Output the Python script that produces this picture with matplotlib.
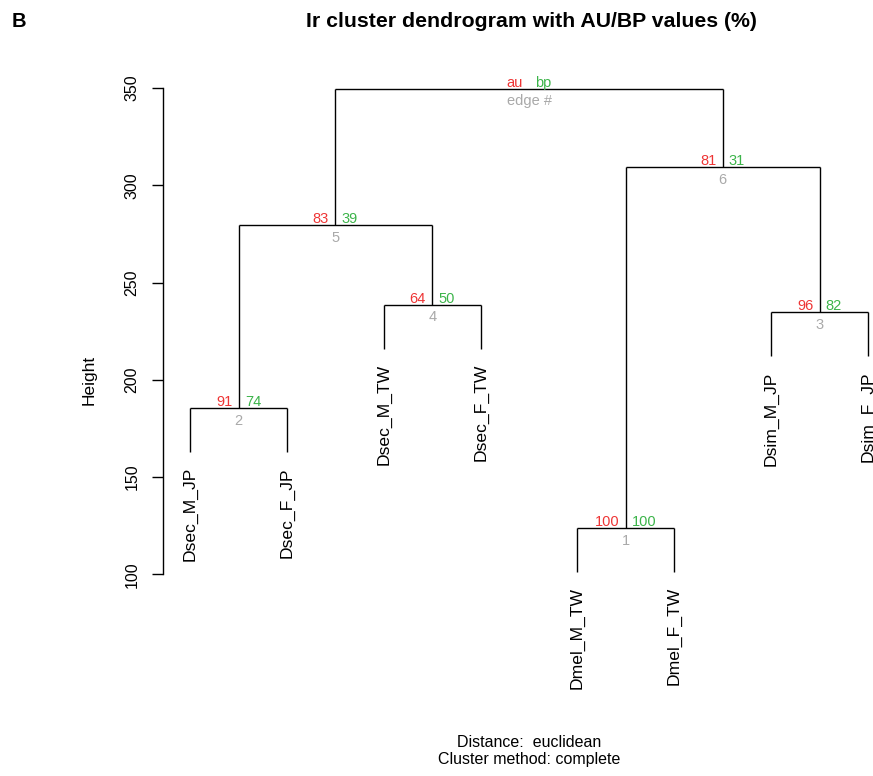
import numpy as np
import matplotlib
matplotlib.use("Agg")
import matplotlib.pyplot as plt

plt.rcParams['font.family'] = ['Liberation Sans', 'DejaVu Sans']

# leaves, in original order
labels = ["Dsec_M_JP", "Dsec_F_JP", "Dsec_M_TW", "Dsec_F_TW",
          "Dmel_M_TW", "Dmel_F_TW", "Dsim_M_JP", "Dsim_F_JP"]

# merge table, R hclust style (negative = leaf, positive = earlier merge)
merge_a = [-5, -1, -7, -3, 2, 1, 5]
merge_b = [-6, -2, -8, -4, 4, 3, 6]
heights = [123.8, 185.5, 234.8, 238.6, 279.6, 309.4, 349.6]

# pvclust values for each edge (root has none)
au_vals = [100, 91, 96, 64, 83, 81]
bp_vals = [100, 74, 82, 50, 39, 31]
edge_ids = [1, 2, 3, 4, 5, 6]

y_ticks = [100, 150, 200, 250, 300, 350]

RED = "#ee3535"
GREEN = "#3cb44a"
GRAY = "#a9a9a9"

# leaf order from a depth-first walk
def walk(k):
    out = []
    for c in (merge_a[k - 1], merge_b[k - 1]):
        out += [-c] if c < 0 else walk(c)
    return out

order = walk(len(heights))
leaf_x = {leaf: i + 1 for i, leaf in enumerate(order)}
hang = 0.1 * (max(heights) - min(heights))

node_x = {}
for k in range(1, len(heights) + 1):
    xs = []
    for c in (merge_a[k - 1], merge_b[k - 1]):
        xs.append(leaf_x[-c] if c < 0 else node_x[c])
    node_x[k] = np.mean(xs)

fig = plt.figure(figsize=(8.73, 7.76), dpi=100)
# axes placed so that the user range matches R's plot region
ax = fig.add_axes([163 / 873, 1 - 720 / 776, 710 / 873, 660 / 776])
ax.set_xlim(0.72, 8.052)
ax.set_ylim(25.1, 364.4)

for k in range(1, len(heights) + 1):
    h = heights[k - 1]
    xs = []
    for c in (merge_a[k - 1], merge_b[k - 1]):
        if c < 0:
            cx, ch = leaf_x[-c], h - hang
        else:
            cx, ch = node_x[c], heights[c - 1]
        xs.append(cx)
        ax.plot([cx, cx], [h, ch], color="black", lw=1.0, solid_capstyle="butt")
    ax.plot(xs, [h, h], color="black", lw=1.0, solid_capstyle="butt")

# leaf labels
for k in range(1, len(heights) + 1):
    h = heights[k - 1]
    for c in (merge_a[k - 1], merge_b[k - 1]):
        if c < 0:
            ax.annotate(labels[-c - 1], (leaf_x[-c], h - hang), xytext=(0, -11),
                        textcoords="offset points", rotation=90, ha="center",
                        va="top", fontsize=12.6, annotation_clip=False)

# au / bp / edge numbers
PV_SIZE = 10.5
for k in range(1, len(heights)):
    x, h = node_x[k], heights[k - 1]
    ax.annotate(str(au_vals[k - 1]), (x, h), xytext=(-4.5, 1.5), textcoords="offset points",
                ha="right", va="baseline", fontsize=PV_SIZE, color=RED)
    ax.annotate(str(bp_vals[k - 1]), (x, h), xytext=(4.5, 1.5), textcoords="offset points",
                ha="left", va="baseline", fontsize=PV_SIZE, color=GREEN)
    ax.annotate(str(edge_ids[k - 1]), (x, h), xytext=(0, -4), textcoords="offset points",
                ha="center", va="top", fontsize=PV_SIZE, color=GRAY)

xr, hr = node_x[len(heights)], heights[-1]
ax.annotate("au", (xr, hr), xytext=(-4.5, 1.5), textcoords="offset points",
            ha="right", va="baseline", fontsize=PV_SIZE, color=RED)
ax.annotate("bp", (xr, hr), xytext=(4, 1.5), textcoords="offset points",
            ha="left", va="baseline", fontsize=PV_SIZE, color=GREEN)
ax.annotate("edge #", (xr, hr), xytext=(0, -4), textcoords="offset points",
            ha="center", va="top", fontsize=PV_SIZE, color=GRAY)

for s in ["top", "right", "bottom"]:
    ax.spines[s].set_visible(False)
ax.spines["left"].set_bounds(100, 350)
ax.spines["left"].set_linewidth(1.0)
ax.set_xticks([])
ax.set_yticks(y_ticks)
ax.set_yticklabels([str(v) for v in y_ticks], rotation=90, va="center")
ax.tick_params(axis="y", length=8, width=1.0, pad=9, labelsize=11.5)

fig.text(89 / 873, 1 - 380 / 776, "Height", rotation=90, ha="center", va="center", fontsize=12.5)
fig.text(531 / 873, 1 - 27 / 776, "Ir cluster dendrogram with AU/BP values (%)",
         ha="center", va="baseline", fontsize=15.3, fontweight="bold")
fig.text(12 / 873, 1 - 27.3 / 776, "B", ha="left", va="baseline", fontsize=14.5, fontweight="bold")
fig.text(529 / 873, 1 - 747 / 776, "Distance:  euclidean", ha="center", va="baseline", fontsize=11.5)
fig.text(529 / 873, 1 - 764 / 776, "Cluster method: complete", ha="center", va="baseline", fontsize=11.5)

fig.savefig("out.png", dpi=100)
